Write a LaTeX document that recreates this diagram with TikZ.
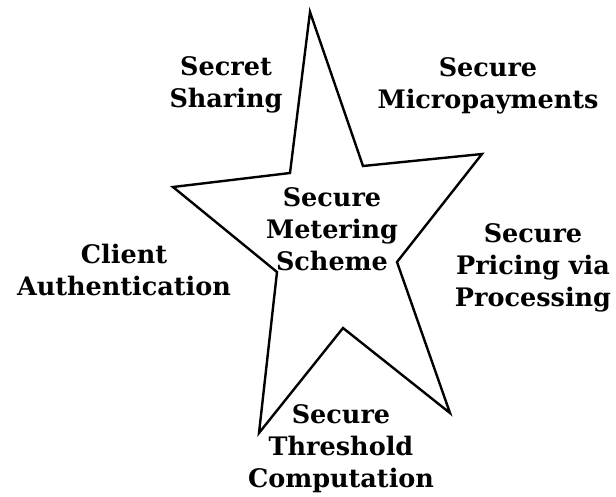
\documentclass[tikz,border=0pt]{standalone}
\usepackage{fontspec}
\setmainfont{DejaVu Serif}
\usetikzlibrary{positioning}

\begin{document}
\begin{tikzpicture}[
	x=1pt,
	y=-1pt,
	topic/.style={
		align=center,
		inner sep=0pt,
		font=\bfseries\fontsize{25.5}{32}\selectfont
	}
]
	\useasboundingbox (0,0) rectangle (616,496);
	\draw[
		color=black,
		line width=2.4pt,
		line join=miter
	] (310,12) -- (363,166) -- (482,154) -- (397,262) -- (450,413)
	-- (343,328) -- (259,433) -- (277,272) -- (173,187) -- (290,173) -- cycle;
	\node[
		topic
	] (metering) at (332,229) {Secure\\Metering\\Scheme};
	\node[
		topic
	] (sharing) at (226,85) {Secret\\Sharing};
	\node[
		topic
	] (micropay) at (488,86) {Secure\\Micropayments};
	\node[
		topic
	] (auth) at (124,270) {Client\\Authentication};
	\node[
		topic
	] (pricing) at (533,268) {Secure\\Pricing via\\Processing};
	\node[
		topic
	] (threshold) at (341,449) {Secure\\Threshold\\Computation};
\end{tikzpicture}
\end{document}
